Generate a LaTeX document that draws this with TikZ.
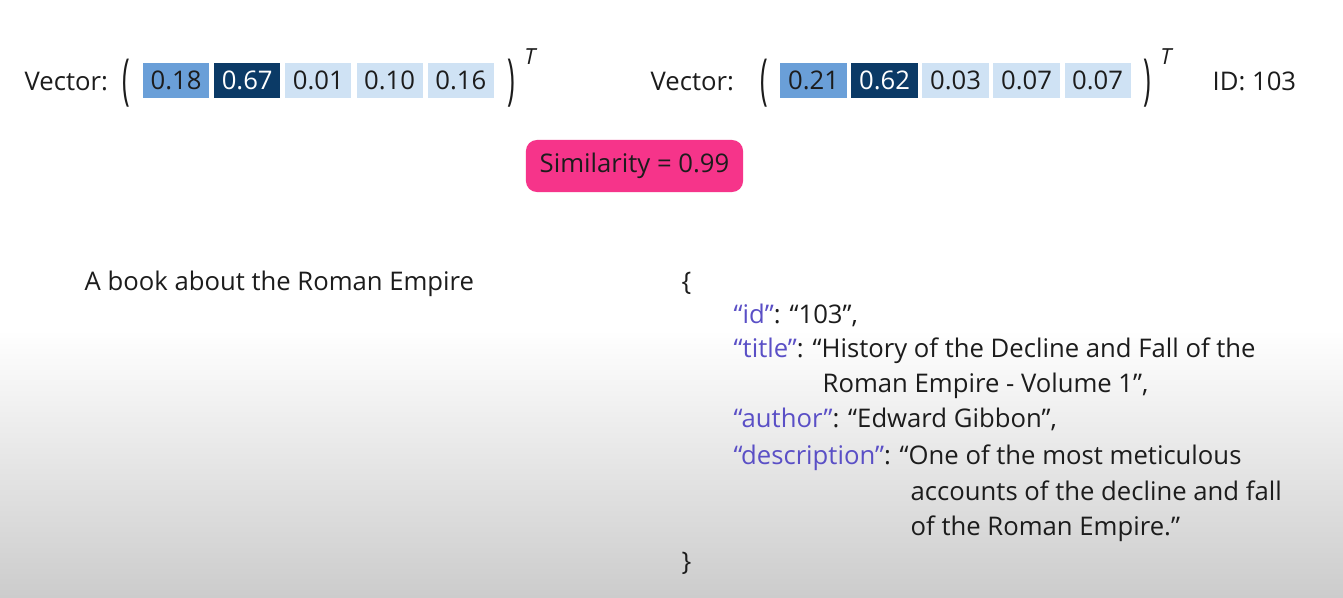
\documentclass[tikz,border=0pt]{standalone}
\usepackage{fontspec}
\setmainfont{Open Sans}
\usetikzlibrary{positioning}

\definecolor{vecmid}{HTML}{6A9FD8}
\definecolor{vecdark}{HTML}{0B3A66}
\definecolor{veclight}{HTML}{CFE2F4}
\definecolor{simpink}{HTML}{F6348A}
\definecolor{jsonkey}{HTML}{5A4FC6}
\definecolor{ink}{HTML}{1C1C1C}

\newcommand{\bodyfont}{\fontsize{7.3}{8.5}\selectfont}
\newcommand{\tallparen}[1]{\scalebox{1}[2.15]{#1}}

\tikzset{
  txt/.style={font=\bodyfont, text=ink, inner sep=0pt},
  cell/.style={minimum width=0.66cm, minimum height=0.35cm, inner sep=0pt, font=\bodyfont},
  paren/.style={font=\bodyfont, text=ink, inner sep=0pt},
  supT/.style={font=\fontsize{6.3}{7}\selectfont\itshape, text=ink, inner sep=0pt},
  key/.style={text=jsonkey}
}

\begin{document}
\begin{tikzpicture}[x=0.01cm, y=-0.01cm, line join=round, line cap=round]
  % Canvas and background fade
  \useasboundingbox (0,0) rectangle (1343,597);
  \fill[white] (0,0) rectangle (1343,597);
  \shade[top color=white, bottom color=black!20] (0,330) rectangle (1343,597);

  % Query vector
  \node[txt, anchor=base west] (qlabel) at (24,90) {Vector:};
  \node[paren] (qopen) at (126,83) {\tallparen{(}};
  \foreach \val/\bg/\fg [count=\i] in {0.18/vecmid/ink, 0.67/vecdark/white, 0.01/veclight/ink, 0.10/veclight/ink, 0.16/veclight/ink}
    \node[cell, fill=\bg, text=\fg] (q\i) at ({176+71.2*(\i-1)},80.5) {\val};
  \node[paren] (qclose) at (511,83) {\tallparen{)}};
  \node[supT] (qT) at (530,57) {T};

  % Stored vector
  \node[txt, anchor=base west] (dlabel) at (650,90) {Vector:};
  \node[paren] (dopen) at (764,83) {\tallparen{(}};
  \foreach \val/\bg/\fg [count=\i] in {0.21/vecmid/ink, 0.62/vecdark/white, 0.03/veclight/ink, 0.07/veclight/ink, 0.07/veclight/ink}
    \node[cell, fill=\bg, text=\fg] (d\i) at ({813.5+71*(\i-1)},80.5) {\val};
  \node[paren] (dclose) at (1147,83) {\tallparen{)}};
  \node[supT] (dT) at (1166,57) {T};
  \node[txt, anchor=base west] (did) at (1212,90) {ID: 103};

  % Similarity score
  \node[fill=simpink, rounded corners=0.11cm, minimum width=2.17cm, minimum height=0.52cm,
        inner sep=0pt, font=\bodyfont, text=ink] (sim) at (634.5,166) {Similarity = 0.99};

  % Query text
  \node[txt, anchor=base west] (query) at (84,290) {A book about the Roman Empire};

  % Stored document
  \node[txt, anchor=base west] (jopen) at (681,290) {\{};
  \node[txt, anchor=base west] (jid) at (733,323) {{\color{jsonkey}“id”}: “103”,};
  \node[txt, anchor=base west] (jtitle) at (733,357) {{\color{jsonkey}“title”}: “History of the Decline and Fall of the};
  \node[txt, anchor=base west] (jtitle2) at (822,392) {Roman Empire - Volume 1”,};
  \node[txt, anchor=base west] (jauthor) at (733,427) {{\color{jsonkey}“author”}: “Edward Gibbon”,};
  \node[txt, anchor=base west] (jdesc) at (733,464) {{\color{jsonkey}“description”}: “One of the most meticulous};
  \node[txt, anchor=base west] (jdesc2) at (910,500) {accounts of the decline and fall};
  \node[txt, anchor=base west] (jdesc3) at (910,535) {of the Roman Empire.”};
  \node[txt, anchor=base west] (jclose) at (681,570) {\}};
\end{tikzpicture}
\end{document}
